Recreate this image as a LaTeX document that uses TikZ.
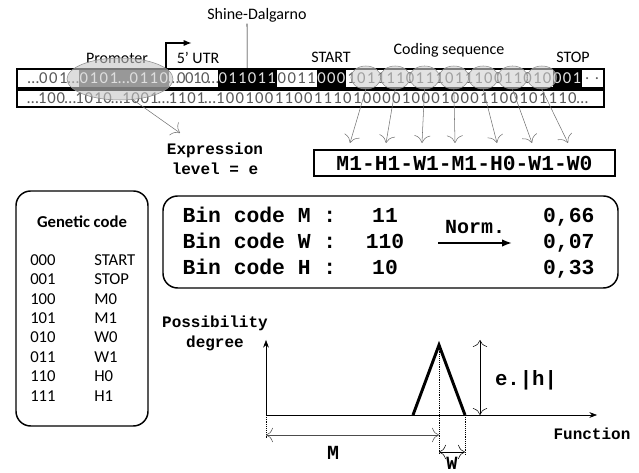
\documentclass[tikz,border=0pt]{standalone}
\usepackage{fontspec}
\setmainfont{Carlito}
\newfontfamily\cour{Liberation Mono}
\usepackage{tikz}
\usetikzlibrary{arrows.meta,positioning,shapes.geometric}

% one pixel of the layout grid
\newlength\pxu
\setlength\pxu{0.75pt}
% spread a string over cells of equal width (pitch in px)
\newcommand\dna[2]{\def\dnapitch{#1}\dnaloop#2\relax}
\newcommand\dnaloop[1]{\ifx\relax#1\else\makebox[\dnapitch\pxu]{#1}\expandafter\dnaloop\fi}

\begin{document}
\begin{tikzpicture}[
    x=0.75pt, y=-0.75pt,
    lbl/.style={font=\fontsize{12}{14}\selectfont, inner sep=1pt},
    seg/.style={inner sep=0, minimum height=14.25pt, anchor=west,
                font=\fontsize{12.5}{14}\selectfont, text=black!65},
    segb/.style={seg, fill=black, text=black!12},
    segd/.style={seg, fill=black!68, text=white},
    strand/.style={draw=black, line width=1.1pt},
    prombox/.style={ellipse, draw=black!45, fill=black!22, fill opacity=0.6,
                    minimum width=79.5pt, minimum height=31.5pt, inner sep=0},
    codon/.style={ellipse, draw=black!45, fill=black!18, fill opacity=0.6,
                  minimum width=22.5pt, minimum height=17.25pt, inner sep=0},
    garr/.style={-{To[length=2mm]}, draw=black!55, thin},
    mono/.style={font=\cour\bfseries\fontsize{16}{18}\selectfont, inner sep=1pt},
    small/.style={font=\cour\bfseries\fontsize{12}{15}\selectfont, inner sep=1pt, align=center},
    rbox/.style={draw=black, line width=1.1pt, rounded corners=11pt},
    gc/.style={font=\fontsize{12.5}{14}\selectfont, anchor=west, inner sep=0},
    axis/.style={-{Stealth[length=2mm]}, thin},
    dim/.style={{To[length=1.8mm]}-{To[length=1.8mm]}, thin},
    guide/.style={densely dotted, thin}
]
  \useasboundingbox (0,0) rectangle (639,473);

  % top strand
  \node[seg] (s1) at (28,78.5) {\dna{10}{…001…}};
  \node[segd, right=0pt of s1] (s2) {\dna{10}{0101…0110}};
  \node[seg, right=0pt of s2] (s3) {\dna{8}{…0010…}};
  \node[segb, right=0pt of s3] (sd) {\dna{9.78}{011011}};
  \node[seg, right=0pt of sd] (s5) {\dna{9.78}{0011}};
  \node[segb, right=0pt of s5] (start) {\dna{9.78}{000}};
  \node[seg, right=0pt of start] (cds) {\dna{9.78}{101111011101110011010}};
  \node[segb, right=0pt of cds] (stop) {\dna{9.78}{001}};
  \node[seg, right=0pt of stop] (s9) {\dna{9.78}{..}};
  % bottom strand
  \node[seg] (b1) at (28,98.5) {\dna{9.33}{…100…1010…1001…1101…}};
  \node[seg, right=0pt of b1] (b2) {\dna{9.78}{1001001100111010000100010001100101110…}};

  \draw[strand] (17,69) rectangle (604,88);
  \draw[strand] (17,90) rectangle (604,107);

  % labels over the strand
  \node[lbl] (sdlab) at (257,15) {Shine-Dalgarno};
  \node[lbl] (prlab) at (117,58) {Promoter};
  \node[lbl] (utr) at (198,58) {5’ UTR};
  \node[lbl] (stlab) at (331,57) {START};
  \node[lbl] (cslab) at (449,50) {Coding sequence};
  \node[lbl] (splab) at (573,57) {STOP};
  \draw ([xshift=-7.5pt]sdlab.south) -- (sd.north);

  \coordinate (tss) at (166,69);
  \coordinate (tssend) at (192,43);
  \draw[line width=1.8pt, -{Latex[length=2.2mm]}] (tss) |- (tssend);

  % highlighted regions
  \node[prombox] (prom) at (120,79) {};
  \foreach \i in {1,...,7}
    \node[codon] (cs\i) at ({336.5+29.34*\i},77.5) {};

  % expression level
  \node[small] (expr) at (215,159) {Expression\\level = e};
  \coordinate (etip) at (180,133);
  \draw[garr] (prom.-58) -- (etip);

  % codons to genes
  \node[draw, line width=1.1pt, minimum width=225.75pt, minimum height=19.5pt,
        mono] (genes) at (464.5,163) {M1-H1-W1-M1-H0-W1-W0};
  \foreach \i/\tx in {1/350,2/386,3/422,4/455,5/497,6/532,7/568} {
    \coordinate (tip\i) at (\tx,143);
    \draw[garr] (cs\i.south) -- (tip\i);
  }

  % genetic code table
  \node[rbox, minimum width=99pt, minimum height=176.25pt] (gcbox) at (82,308.5) {};
  \node[font=\bfseries\fontsize{12.5}{14}\selectfont] (gctitle) at (82,222) {Genetic code};
  \foreach \cd/\nm [count=\i] in {000/START,001/STOP,100/M0,101/M1,010/W0,011/W1,110/H0,111/H1} {
    \node[gc] (cd\i) at (30,{240.6+19.4*\i}) {\cd};
    \node[gc] (nm\i) at (94,{240.6+19.4*\i}) {\nm};
  }

  % binary codes and normalisation
  \node[rbox, minimum width=341.25pt, minimum height=69pt] (binbox) at (390.5,242) {};
  \foreach \g/\v/\n [count=\i] in {M/11/{0,66},W/110/{0,07},H/10/{0,33}} {
    \node[mono, anchor=base west] (bl\i) at (181,{197+26*\i}) {Bin code \g\ :};
    \node[mono, anchor=base] (bv\i) at (385,{197+26*\i}) {\v};
    \node[mono, anchor=base east] (bn\i) at (596,{197+26*\i}) {\n};
  }
  \coordinate (na) at (438,243);
  \coordinate (nb) at (512,243);
  \draw[line width=1.3pt, -{Latex[length=2.6mm]}] (na) -- (nb)
    node[midway, above=5pt, font=\cour\bfseries\fontsize{15}{17}\selectfont, inner sep=1pt] (norm) {Norm.};

  % possibility distribution
  \coordinate (O) at (266,415);
  \coordinate (ytop) at (266,340);
  \coordinate (xend) at (597,415);
  \draw[axis] (O) -- (ytop);
  \draw[axis] (O) -- (xend);
  \node[small] (poss) at (215,333) {Possibility\\degree};
  \node[small] (func) at (592,434) {Function};

  \coordinate (t1) at (413,415);
  \coordinate (pk) at (439,345);
  \coordinate (t2) at (465,415);
  \draw[line width=2.2pt, line join=miter] (t1) -- (pk) -- (t2);

  \coordinate (Od) at (266,438);
  \coordinate (pkd) at (439,455);
  \coordinate (t2d) at (465,455);
  \draw[guide] (O) -- (Od);
  \draw[guide] (pk) -- (pkd);
  \draw[guide] (t2) -- (t2d);

  \coordinate (ma) at (266,435);
  \coordinate (mb) at (439,435);
  \draw[dim, draw=black!70] (ma) -- (mb);
  \node[mono, font=\cour\bfseries\fontsize{15}{17}\selectfont] (mlab) at (333,453) {M};
  \coordinate (wa) at (439,452);
  \coordinate (wb) at (465,452);
  \draw[dim] (wa) -- (wb);
  \node[font=\cour\bfseries\fontsize{14}{16}\selectfont, anchor=base, inner sep=0] (wlab) at (452,470) {W};
  \coordinate (ea) at (480,340);
  \coordinate (eb) at (480,415);
  \draw[dim] (ea) -- (eb);
  \node[mono, font=\cour\bfseries\fontsize{15.5}{17}\selectfont] (elab) at (526,380) {e.|h|};
\end{tikzpicture}
\end{document}
